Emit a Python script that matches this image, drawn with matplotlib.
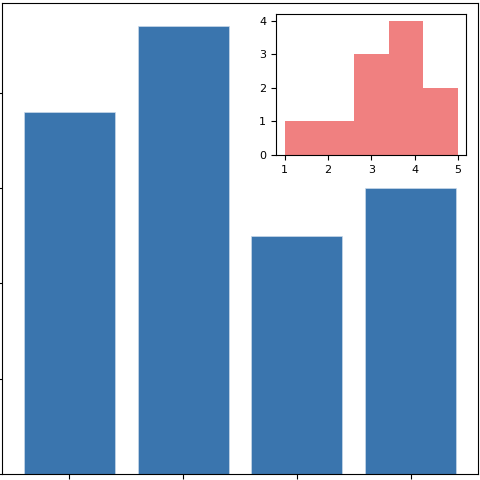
import matplotlib
matplotlib.use('Agg')
import matplotlib.pyplot as plt

categories = ['A', 'B', 'C', 'D']
values = [3.8, 4.7, 2.5, 3.0]
hist_data = [1, 2, 3, 3, 3, 4, 4, 4, 4, 5, 5]


def main():
    fig = plt.figure(figsize=(4.8, 4.8), dpi=100)
    ax = fig.add_axes([2.2 / 480, 5.7 / 480, 475.5 / 480, 471 / 480])
    ax.bar(range(len(categories)), values, color='#3a75ae',
           edgecolor='#c9d9ea', linewidth=0.5)
    ax.set_xticks(range(len(categories)))
    ax.set_xticklabels([])
    ax.set_yticklabels([])

    inset = fig.add_axes([276 / 480, 325 / 480, 190.5 / 480, 141 / 480])
    inset.hist(hist_data, bins=5, color='lightcoral', linewidth=0)
    inset.tick_params(labelsize=8)

    fig.savefig('out.png', dpi=100)


if __name__ == '__main__':
    main()
